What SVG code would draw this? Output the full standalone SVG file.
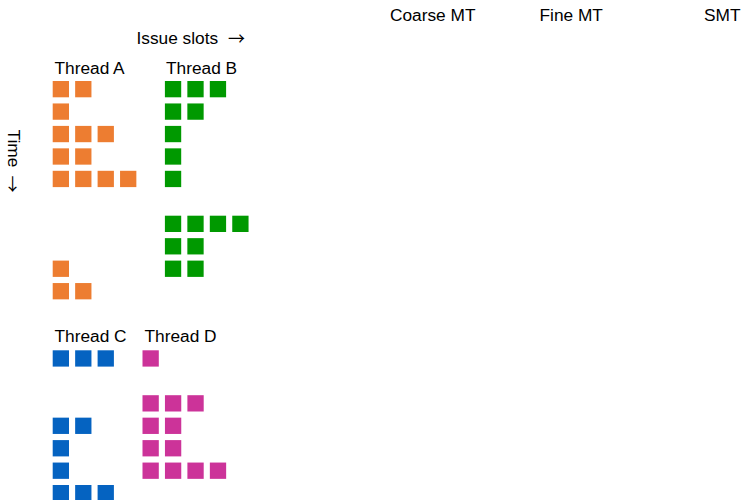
<svg xmlns="http://www.w3.org/2000/svg" width="741" height="500" viewBox="0 0 741 500">
<style>
text{font-family:"Liberation Sans",Arial,sans-serif;font-size:17.3px;fill:#000}
.ar{font-family:"Noto Sans CJK JP","DejaVu Sans",sans-serif;font-size:17px}
.a{fill:#ED7D31}.b{fill:#009900}.c{fill:#0563C1}.d{fill:#CC3399}
rect{width:16.3px;height:16.3px}
</style>
<rect x="0" y="0" width="741" height="500" fill="#fff" style="width:741px;height:500px"/>
<g id="headers">
<text x="390" y="21">Coarse MT</text>
<text x="539.5" y="21">Fine MT</text>
<text x="704" y="21">SMT</text>
<text x="136.5" y="43.5">Issue slots <tspan class="ar" x="228" dy="1.5">→</tspan></text>
<text transform="translate(7.5,129.5) rotate(90)">Time <tspan class="ar" x="46" dy="1.5">→</tspan></text>
</g>
<g id="threadA">
<text x="54.5" y="73.5">Thread A</text>
<rect class="a" x="52.7" y="81"/><rect class="a" x="75.15" y="81"/>
<rect class="a" x="52.7" y="103.45"/>
<rect class="a" x="52.7" y="125.9"/><rect class="a" x="75.15" y="125.9"/><rect class="a" x="97.6" y="125.9"/>
<rect class="a" x="52.7" y="148.35"/><rect class="a" x="75.15" y="148.35"/>
<rect class="a" x="52.7" y="170.8"/><rect class="a" x="75.15" y="170.8"/><rect class="a" x="97.6" y="170.8"/><rect class="a" x="120.05" y="170.8"/>
<rect class="a" x="52.7" y="260.6"/>
<rect class="a" x="52.7" y="283.05"/><rect class="a" x="75.15" y="283.05"/>
</g>
<g id="threadB">
<text x="166" y="73.5">Thread B</text>
<rect class="b" x="164.9" y="81"/><rect class="b" x="187.35" y="81"/><rect class="b" x="209.8" y="81"/>
<rect class="b" x="164.9" y="103.45"/><rect class="b" x="187.35" y="103.45"/>
<rect class="b" x="164.9" y="125.9"/>
<rect class="b" x="164.9" y="148.35"/>
<rect class="b" x="164.9" y="170.8"/>
<rect class="b" x="164.9" y="215.7"/><rect class="b" x="187.35" y="215.7"/><rect class="b" x="209.8" y="215.7"/><rect class="b" x="232.25" y="215.7"/>
<rect class="b" x="164.9" y="238.15"/><rect class="b" x="187.35" y="238.15"/>
<rect class="b" x="164.9" y="260.6"/><rect class="b" x="187.35" y="260.6"/>
</g>
<g id="threadC">
<text x="54.5" y="341.7">Thread C</text>
<rect class="c" x="52.7" y="350.3"/><rect class="c" x="75.15" y="350.3"/><rect class="c" x="97.6" y="350.3"/>
<rect class="c" x="52.7" y="417.65"/><rect class="c" x="75.15" y="417.65"/>
<rect class="c" x="52.7" y="440.1"/>
<rect class="c" x="52.7" y="462.55"/>
<rect class="c" x="52.7" y="485"/><rect class="c" x="75.15" y="485"/><rect class="c" x="97.6" y="485"/>
</g>
<g id="threadD">
<text x="144.5" y="341.7">Thread D</text>
<rect class="d" x="142.5" y="350.3"/>
<rect class="d" x="142.5" y="395.2"/><rect class="d" x="164.95" y="395.2"/><rect class="d" x="187.4" y="395.2"/>
<rect class="d" x="142.5" y="417.65"/><rect class="d" x="164.95" y="417.65"/>
<rect class="d" x="142.5" y="440.1"/><rect class="d" x="164.95" y="440.1"/>
<rect class="d" x="142.5" y="462.55"/><rect class="d" x="164.95" y="462.55"/><rect class="d" x="187.4" y="462.55"/><rect class="d" x="209.85" y="462.55"/>
</g>
<g id="connectors"/>
</svg>
